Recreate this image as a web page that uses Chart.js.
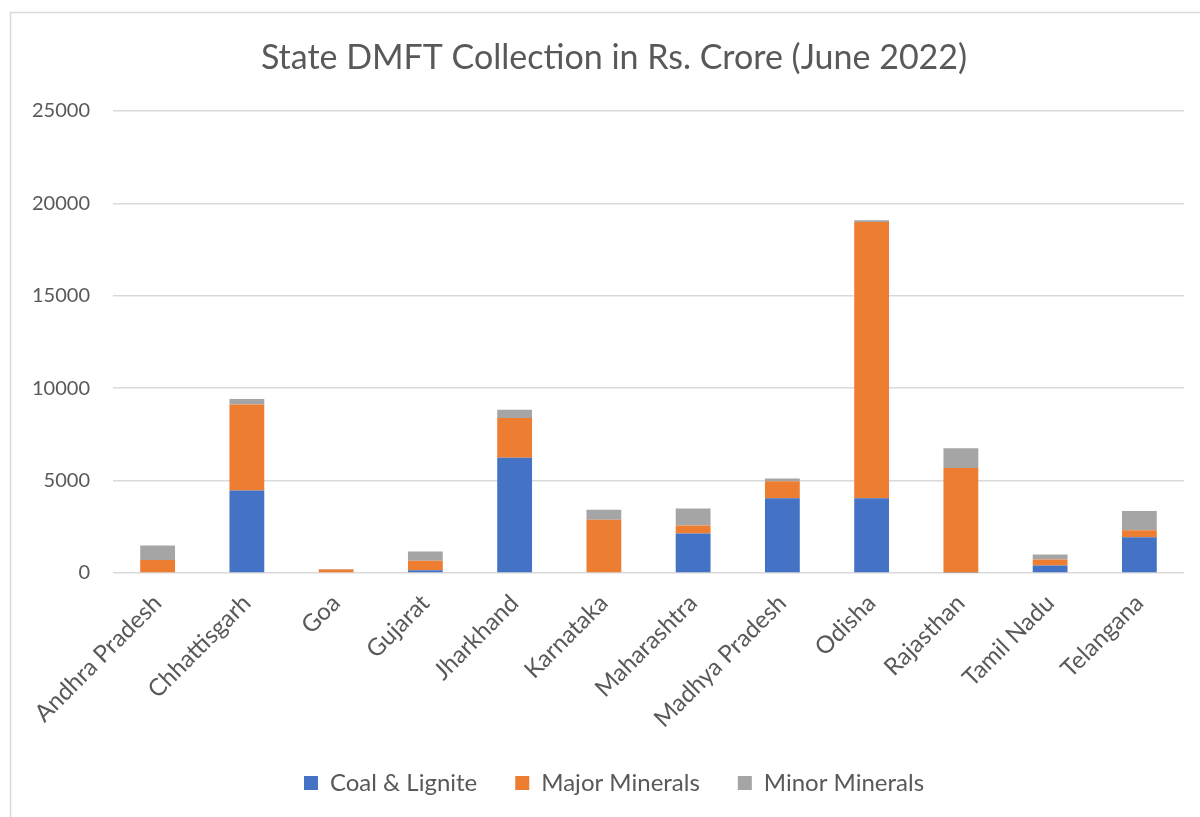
<!DOCTYPE html>
<html>
<head>
<meta charset="utf-8">
<title>State DMFT Collection</title>
<script src="https://cdn.jsdelivr.net/npm/chart.js@4.4.0/dist/chart.umd.min.js"></script>
<style>
    html, body { margin: 0; padding: 0; background: #ffffff; }
    #chart { display: block; }
</style>
</head>
<body>
<canvas id="chart" width="1200" height="817"></canvas>
<script>
// Values (Rs. Crore)
const states = [
    'Andhra Pradesh', 'Chhattisgarh', 'Goa', 'Gujarat', 'Jharkhand', 'Karnataka',
    'Maharashtra', 'Madhya Pradesh', 'Odisha', 'Rajasthan', 'Tamil Nadu', 'Telangana'
];
const coalLignite   = [0, 4470, 0, 150, 6240, 0, 2140, 4050, 4040, 30, 400, 1940];
const majorMinerals = [700, 4650, 190, 510, 2150, 2880, 430, 920, 14960, 5650, 330, 380];
const minorMinerals = [790, 290, 20, 500, 450, 540, 920, 150, 90, 1070, 270, 1030];
const yTicks = [0, 5000, 10000, 15000, 20000, 25000];

const textColor = '#595959';
const gridColor = '#d9d9d9';
const fontFamily = 'Lato, "Open Sans", sans-serif';

// Light frame round the chart, like the spreadsheet chart box
const framePlugin = {
    id: 'frame',
    beforeDraw(chart) {
        const ctx = chart.ctx;
        ctx.save();
        ctx.fillStyle = '#ffffff';
        ctx.fillRect(0, 0, chart.width, chart.height);
        ctx.strokeStyle = gridColor;
        ctx.lineWidth = 1.5;
        ctx.strokeRect(10.5, 12.5, chart.width + 50, chart.height + 50);
        ctx.restore();
    }
};

// The chart box is wider than the page, so title and legend sit a bit right of centre
const shiftPlugin = {
    id: 'shiftBlocks',
    afterLayout(chart) {
        const dx = 22;
        [chart.titleBlock, chart.legend].forEach(box => {
            if (box) {
                box.left += dx;
                box.right += dx;
            }
        });
    }
};

function makeDataset(label, values, color) {
    return {
        label: label,
        data: values,
        backgroundColor: color,
        borderWidth: 0,
        categoryPercentage: 1.0,
        barPercentage: 0.39
    };
}

const ctx = document.getElementById('chart').getContext('2d');
new Chart(ctx, {
    type: 'bar',
    data: {
        labels: states,
        datasets: [
            makeDataset('Coal & Lignite', coalLignite, '#4472c4'),
            makeDataset('Major Minerals', majorMinerals, '#ed7d31'),
            makeDataset('Minor Minerals', minorMinerals, '#a5a5a5')
        ]
    },
    options: {
        responsive: false,
        animation: false,
        layout: {
            padding: { left: 0, right: 16, top: 0, bottom: 12 }
        },
        plugins: {
            title: {
                display: true,
                text: 'State DMFT Collection in Rs. Crore (June 2022)',
                color: textColor,
                font: { family: fontFamily, size: 34, weight: 'normal' },
                padding: { top: 37.6, bottom: 32.6 }
            },
            legend: {
                position: 'bottom',
                labels: {
                    color: textColor,
                    font: { family: fontFamily, size: 24 },
                    boxWidth: 14,
                    boxHeight: 14,
                    padding: 38
                }
            },
            tooltip: { enabled: false }
        },
        scales: {
            x: {
                stacked: true,
                grid: { display: false },
                border: { display: false },
                ticks: {
                    color: textColor,
                    font: { family: fontFamily, size: 24 },
                    maxRotation: 45,
                    minRotation: 45,
                    padding: 8
                },
                afterFit(scale) { scale.height = 160; }
            },
            y: {
                stacked: true,
                min: 0,
                max: 25000,
                afterBuildTicks(scale) {
                    scale.ticks = yTicks.map(v => ({ value: v }));
                },
                grid: { color: gridColor, lineWidth: 1.5, drawTicks: false },
                border: { display: false },
                ticks: {
                    color: textColor,
                    font: { family: fontFamily, size: 20 },
                    padding: 23,
                    callback: (value) => String(value)
                },
                afterFit(scale) { scale.width = 113; }
            }
        }
    },
    plugins: [framePlugin, shiftPlugin]
});
</script>
</body>
</html>
